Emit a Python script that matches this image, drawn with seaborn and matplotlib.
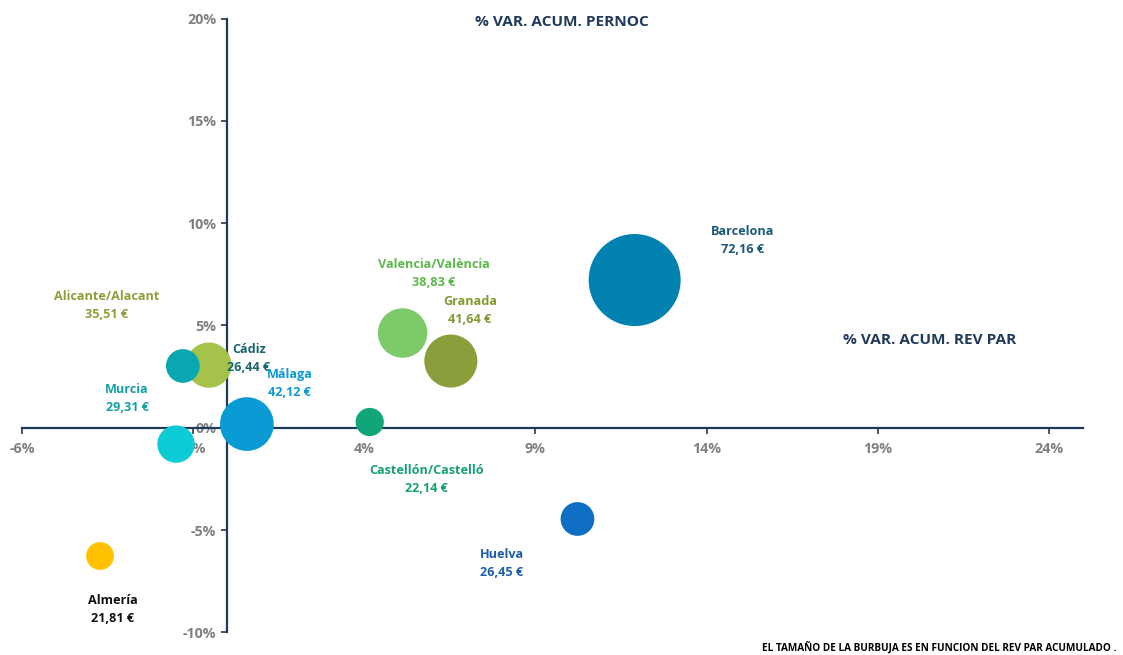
"""Bubble chart: % var. acum. RevPAR vs % var. acum. pernoctaciones."""
import matplotlib.pyplot as plt
import numpy as np
import pandas as pd
import seaborn as sns

# data
PROVINCES = [
    "Alicante/Alacant", "Cádiz", "Málaga", "Murcia", "Valencia/València",
    "Granada", "Barcelona", "Castellón/Castelló", "Huelva", "Almería",
]
REVPAR_VAR = [-0.54, -1.30, 0.57, -1.50, 5.12, 6.53, 11.90, 4.16, 10.23, -3.72]
PERNOC_VAR = [3.06, 3.02, 0.18, -0.80, 4.63, 3.26, 7.22, 0.28, -4.46, -6.27]
REVPAR_ACUM = [35.51, 26.44, 42.12, 29.31, 38.83, 41.64, 72.16, 22.14, 26.45, 21.81]

X_TICKS = [-6, -1, 4, 9, 14, 19, 24]
Y_TICKS = [-10, -5, 0, 5, 10, 15, 20]

BUBBLE_COLORS = ["#a5c34a", "#0aa7b1", "#0a9ad4", "#0ccad6", "#7dca6a",
                 "#8a9e3c", "#0081b0", "#12a57a", "#0e6ec4", "#ffc000"]
LABEL_COLORS = ["#8aa03a", "#17666e", "#0a9ad4", "#13a0a6", "#5cb84a",
                "#7f9a2e", "#1a5878", "#16a078", "#1c5ea8", "#111111"]
# label centre offset from bubble centre, in pixels (right, up)
LABEL_OFFSETS = [(-102, 60), (66, 7), (43, 41), (-49, 46), (31, 60),
                 (19, 51), (108, 40), (57, -57), (-76, -45), (13, -54)]

NAVY = "#1f3a5a"
GREY = "#808080"


def main():
    sns.set_theme(style="white")
    plt.rcParams["font.family"] = ["Open Sans", "DejaVu Sans"]

    df = pd.DataFrame({
        "prov": PROVINCES,
        "x": REVPAR_VAR,
        "y": PERNOC_VAR,
        "revpar": REVPAR_ACUM,
    })
    # bubble radius grows with RevPAR -> area with its square
    df["area"] = df["revpar"] ** 2
    amax = df["area"].max()
    # Barcelona ~92 px wide at 100 dpi
    smax = (92 * 0.72) ** 2

    fig = plt.figure(figsize=(11.23, 6.55), dpi=100)
    ax = fig.add_axes([22 / 1123, (655 - 632.3) / 655, 1061 / 1123, 613.7 / 655])

    sns.scatterplot(
        data=df, x="x", y="y", hue="prov", palette=BUBBLE_COLORS,
        size="area", sizes=(0, smax), size_norm=(0, amax),
        linewidth=0, alpha=1, legend=False, ax=ax, zorder=3,
    )

    ax.set_xlim(-6, 25)
    ax.set_ylim(-10, 20)
    ax.set_xticks(X_TICKS)
    ax.set_yticks(Y_TICKS)
    ax.set_xticklabels([f"{t}%" for t in X_TICKS])
    ax.set_yticklabels([f"{t}%" for t in Y_TICKS])
    ax.set_xlabel("")
    ax.set_ylabel("")

    for side in ["top", "right"]:
        ax.spines[side].set_visible(False)
    ax.spines["left"].set_position(("data", 0))
    ax.spines["bottom"].set_position(("data", 0))
    for side in ["left", "bottom"]:
        ax.spines[side].set_color(NAVY)
        ax.spines[side].set_linewidth(1.6)
        ax.spines[side].set_zorder(2)

    ax.tick_params(axis="both", direction="out", length=4, width=1.2,
                   color=NAVY, labelcolor=GREY, labelsize=10.3)
    ax.tick_params(axis="x", bottom=True, pad=6)
    ax.tick_params(axis="y", left=True, pad=4)
    for lab in ax.get_xticklabels() + ax.get_yticklabels():
        lab.set_fontweight("bold")

    for i, row in df.iterrows():
        dx, dy = LABEL_OFFSETS[i]
        txt = f"{row['prov']}\n{row['revpar']:.2f} €".replace(".", ",")
        ax.annotate(
            txt, (row["x"], row["y"]), xytext=(dx * 0.72, dy * 0.72),
            textcoords="offset points", ha="center", va="center",
            fontsize=9.1, fontweight="bold", color=LABEL_COLORS[i],
            linespacing=1.5, zorder=4,
        )

    fig.text(562 / 1123, 1 - 22 / 655, "% VAR. ACUM. PERNOC", ha="center",
             va="center", fontsize=11.1, fontweight="bold", color=NAVY)
    fig.text(930 / 1123, 1 - 340 / 655, "% VAR. ACUM. REV PAR", ha="center",
             va="center", fontsize=11.1, fontweight="bold", color=NAVY)
    fig.text(762 / 1123, 1 / 655,
             "EL TAMAÑO DE LA BURBUJA ES EN FUNCION DEL REV PAR ACUMULADO .",
             ha="left", va="bottom", fontsize=7.2, fontweight="bold", color="black")

    fig.savefig("out.png", dpi=100)
    plt.close(fig)


if __name__ == "__main__":
    main()
